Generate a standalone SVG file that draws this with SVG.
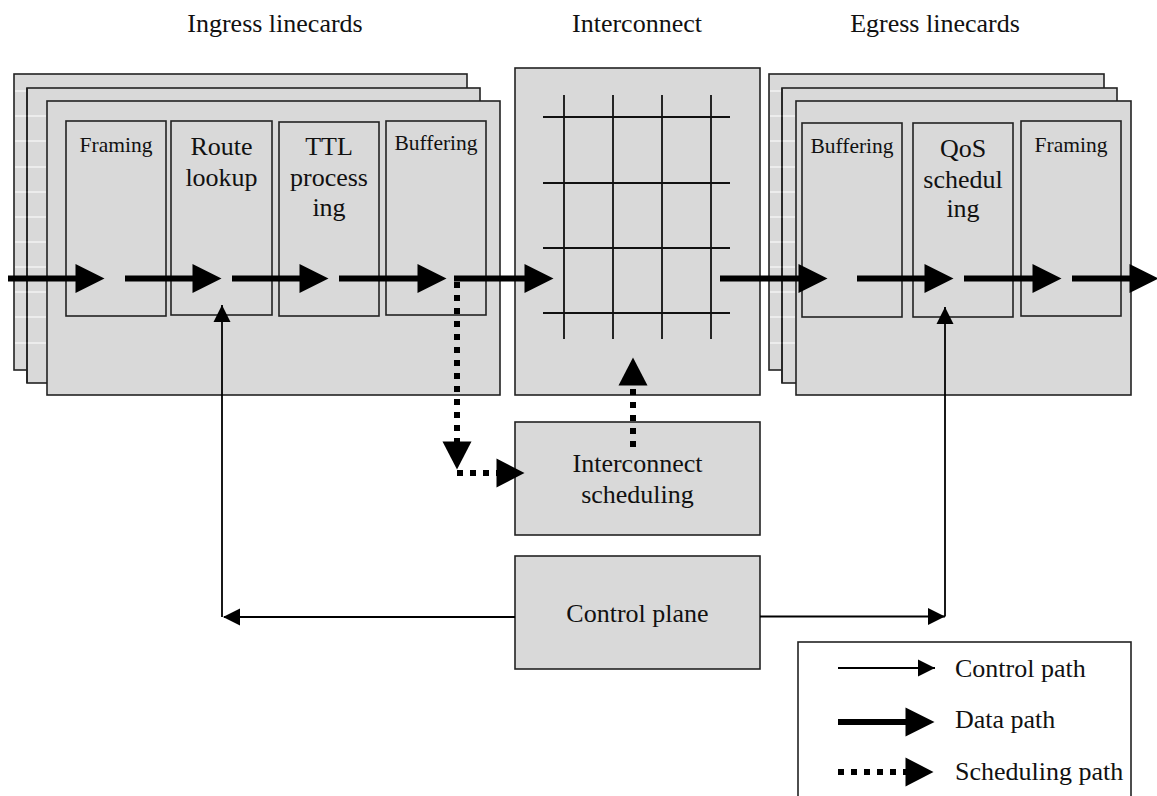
<svg xmlns="http://www.w3.org/2000/svg" width="1157" height="796" viewBox="0 0 1157 796">
<style>
.card{fill:#d9d9d9;stroke:#222;stroke-width:1.6}
.box{fill:#d9d9d9;stroke:#222;stroke-width:1.6}
.wl{stroke:#fff;stroke-width:1}
.grid{stroke:#111;stroke-width:1.8}
.t{font-family:"Liberation Serif","Times New Roman",serif;fill:#111;text-anchor:middle}
.big{font-size:26px}
.sm{font-size:21.5px}
.lg{font-family:"Liberation Serif","Times New Roman",serif;fill:#111;font-size:26px}
.data{stroke:#000;stroke-width:6;fill:none;marker-end:url(#dh)}
.ctl{stroke:#000;stroke-width:1.8;fill:none}
.sch{stroke:#000;stroke-width:6;fill:none;stroke-dasharray:6 7}
</style>
<defs>
<marker id="dh" markerUnits="userSpaceOnUse" markerWidth="31" markerHeight="31" refX="0.5" refY="14.5" orient="auto" overflow="visible">
<path d="M0,0 L29,14.5 L0,29 z" fill="#000"/>
</marker>
<marker id="ch" markerUnits="userSpaceOnUse" markerWidth="19" markerHeight="19" refX="17" refY="8.5" orient="auto" overflow="visible">
<path d="M0,0 L17,8.5 L0,17 z" fill="#000"/>
</marker>
<marker id="sh" markerUnits="userSpaceOnUse" markerWidth="31" markerHeight="31" refX="0.5" refY="14.5" orient="auto" overflow="visible">
<path d="M0,0 L28,14.5 L0,29 z" fill="#000"/>
</marker>
</defs>
<rect width="1157" height="796" fill="#fff"/>

<g id="titles">
<text class="t big" x="275" y="32">Ingress linecards</text>
<text class="t big" x="637" y="32">Interconnect</text>
<text class="t big" x="935" y="32">Egress linecards</text>
</g>

<g id="ingress">
<rect class="card" x="14" y="74" width="453" height="296"/>
<rect class="card" x="27" y="88" width="453" height="295"/>
<g>
<line class="wl" x1="15" y1="91" x2="26" y2="91"/>
<line class="wl" x1="15" y1="116" x2="46" y2="116"/>
<line class="wl" x1="15" y1="141" x2="46" y2="141"/>
<line class="wl" x1="15" y1="167" x2="46" y2="167"/>
<line class="wl" x1="15" y1="192" x2="46" y2="192"/>
<line class="wl" x1="15" y1="217" x2="46" y2="217"/>
<line class="wl" x1="15" y1="242" x2="46" y2="242"/>
<line class="wl" x1="15" y1="267" x2="46" y2="267"/>
<line class="wl" x1="15" y1="292" x2="46" y2="292"/>
<line class="wl" x1="15" y1="317" x2="46" y2="317"/>
<line class="wl" x1="15" y1="343" x2="46" y2="343"/>
<line class="grid" x1="27" y1="88" x2="27" y2="383" style="stroke-width:1.6;stroke:#222"/>
</g>
<rect class="card" x="47" y="101" width="453" height="294"/>
<g id="ing-framing"><rect class="box" x="66" y="121" width="100" height="195"/><text class="t sm" x="116" y="152">Framing</text></g>
<g id="ing-route"><rect class="box" x="171" y="121" width="101" height="194"/><text class="t big" x="221.5" y="155">Route</text><text class="t big" x="221.5" y="186">lookup</text></g>
<g id="ing-ttl"><rect class="box" x="279" y="122" width="100" height="194"/><text class="t big" x="329" y="155">TTL</text><text class="t big" x="329" y="186">process</text><text class="t big" x="329" y="216">ing</text></g>
<g id="ing-buffering"><rect class="box" x="386" y="121" width="100" height="194"/><text class="t sm" x="436" y="150">Buffering</text></g>
</g>

<g id="interconnect">
<rect class="box" x="515" y="68" width="245" height="327"/>
<line class="grid" x1="564" y1="95" x2="564" y2="339"/>
<line class="grid" x1="613" y1="95" x2="613" y2="339"/>
<line class="grid" x1="662" y1="95" x2="662" y2="339"/>
<line class="grid" x1="711" y1="95" x2="711" y2="339"/>
<line class="grid" x1="543" y1="117" x2="730" y2="117"/>
<line class="grid" x1="543" y1="183" x2="730" y2="183"/>
<line class="grid" x1="543" y1="248" x2="730" y2="248"/>
<line class="grid" x1="543" y1="313" x2="730" y2="313"/>
</g>

<g id="egress">
<rect class="card" x="769" y="74" width="335" height="296"/>
<rect class="card" x="782" y="88" width="335" height="295"/>
<g>
<line class="wl" x1="770" y1="91" x2="781" y2="91"/>
<line class="wl" x1="770" y1="116" x2="795" y2="116"/>
<line class="wl" x1="770" y1="141" x2="795" y2="141"/>
<line class="wl" x1="770" y1="167" x2="795" y2="167"/>
<line class="wl" x1="770" y1="192" x2="795" y2="192"/>
<line class="wl" x1="770" y1="217" x2="795" y2="217"/>
<line class="wl" x1="770" y1="242" x2="795" y2="242"/>
<line class="wl" x1="770" y1="267" x2="795" y2="267"/>
<line class="wl" x1="770" y1="292" x2="795" y2="292"/>
<line class="wl" x1="770" y1="317" x2="795" y2="317"/>
<line class="wl" x1="770" y1="343" x2="795" y2="343"/>
<line x1="782" y1="88" x2="782" y2="383" style="stroke-width:1.6;stroke:#222"/>
</g>
<rect class="card" x="796" y="101" width="335" height="294"/>
<g id="eg-buffering"><rect class="box" x="802" y="123" width="100" height="194"/><text class="t sm" x="852" y="153">Buffering</text></g>
<g id="eg-qos"><rect class="box" x="913" y="123" width="100" height="194"/><text class="t big" x="963" y="157">QoS</text><text class="t big" x="963" y="188">schedul</text><text class="t big" x="963" y="217">ing</text></g>
<g id="eg-framing"><rect class="box" x="1021" y="121" width="100" height="195"/><text class="t sm" x="1071" y="152">Framing</text></g>
</g>

<g id="ic-scheduling">
<rect class="box" x="515" y="422" width="245" height="113"/>
<text class="t big" x="637.5" y="472">Interconnect</text>
<text class="t big" x="637.5" y="503">scheduling</text>
</g>

<g id="control-plane">
<rect class="box" x="515" y="556" width="245" height="113"/>
<text class="t big" x="637.5" y="622">Control plane</text>
</g>

<g id="connectors">
<line class="data" x1="8" y1="278.5" x2="76" y2="278.5"/>
<line class="data" x1="125" y1="278.5" x2="193" y2="278.5"/>
<line class="data" x1="232" y1="278.5" x2="300" y2="278.5"/>
<line class="data" x1="339" y1="278.5" x2="418" y2="278.5"/>
<line class="data" x1="454" y1="278.5" x2="525" y2="278.5"/>
<line class="data" x1="720" y1="278.5" x2="799" y2="278.5"/>
<line class="data" x1="857" y1="278.5" x2="925" y2="278.5"/>
<line class="data" x1="964" y1="278.5" x2="1033" y2="278.5"/>
<line class="data" x1="1072" y1="278.5" x2="1130" y2="278.5"/>

<path class="sch" d="M457,282 V442" marker-end="url(#sh)"/>
<path class="sch" d="M457,473 H497" marker-end="url(#sh)"/>
<path class="sch" d="M633,447 V385" marker-end="url(#sh)"/>

<path class="ctl" d="M515,617 H224"/>
<path d="M223,617 L240,608.5 L240,625.5 z" fill="#000"/>
<path class="ctl" d="M222,617 V305" marker-end="url(#ch)"/>
<path class="ctl" d="M760,616.5 H945" marker-end="url(#ch)"/>
<path class="ctl" d="M945,616.5 V307" marker-end="url(#ch)"/>
</g>

<g id="legend">
<rect x="798" y="642" width="333" height="160" fill="#fff" stroke="#222" stroke-width="1.6"/>
<path class="ctl" d="M838,668 H935" marker-end="url(#ch)"/>
<text class="lg" x="955" y="677">Control path</text>
<line class="data" x1="838" y1="722" x2="906" y2="722"/>
<text class="lg" x="955" y="728">Data path</text>
<path class="sch" d="M838,772 H906" marker-end="url(#sh)"/>
<text class="lg" x="955" y="780">Scheduling path</text>
</g>
</svg>
